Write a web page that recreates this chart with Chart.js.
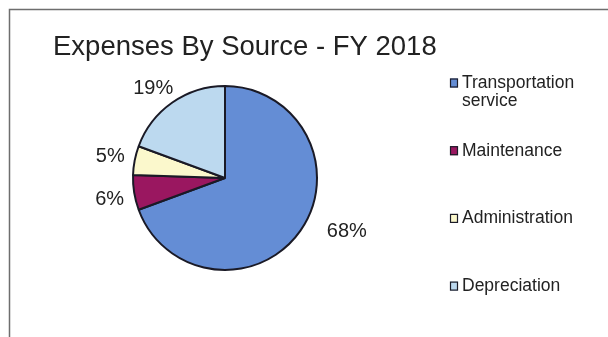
<!DOCTYPE html>
<html>
<head>
<meta charset="utf-8">
<script src="https://cdn.jsdelivr.net/npm/chart.js@4"></script>
<style>
    html, body { margin: 0; padding: 0; background: #ffffff; }
    #wrap { position: relative; width: 608px; height: 337px; }
</style>
</head>
<body>
<div id="wrap"><canvas id="expensesChart" width="608" height="337"></canvas></div>
<script>
// Chart data
const chartTitle = 'Expenses By Source - FY 2018';
const categories = ['Transportation service', 'Maintenance', 'Administration', 'Depreciation'];
const legendLines = [['Transportation', 'service'], ['Maintenance'], ['Administration'], ['Depreciation']];
const percentages = [68, 6, 5, 19];
const sliceColors = ['#648dd5', '#9a1760', '#fbf8cc', '#bcd9ef'];

// Small nudges so the outside labels sit where Excel put them
const labelNudges = [[26, -13], [0, 3], [0, 1], [-5, 6]];

const FONT = '"Liberation Sans", Arial, sans-serif';
const TEXT_COLOR = '#222222';

const chartDecorations = {
    id: 'chartDecorations',
    beforeDraw(chart) {
        const ctx = chart.ctx;
        ctx.save();
        ctx.fillStyle = '#ffffff';
        ctx.fillRect(0, 0, chart.width, chart.height);

        // Frame (right and bottom edges fall outside the picture)
        ctx.strokeStyle = '#6e6e6e';
        ctx.lineWidth = 1.5;
        ctx.beginPath();
        ctx.moveTo(9.5, chart.height);
        ctx.lineTo(9.5, 9.5);
        ctx.lineTo(chart.width, 9.5);
        ctx.stroke();
        ctx.restore();
    },
    afterDraw(chart) {
        const ctx = chart.ctx;
        ctx.save();

        // Title
        ctx.fillStyle = TEXT_COLOR;
        ctx.font = `27.5px ${FONT}`;
        ctx.textAlign = 'left';
        ctx.textBaseline = 'alphabetic';
        ctx.fillText(chartTitle, 53, 55);

        // Percentage labels outside the slices
        const meta = chart.getDatasetMeta(0);
        ctx.font = `20px ${FONT}`;
        ctx.textAlign = 'center';
        ctx.textBaseline = 'middle';
        meta.data.forEach((arc, i) => {
            const p = arc.getProps(['x', 'y', 'startAngle', 'endAngle', 'outerRadius'], true);
            const mid = (p.startAngle + p.endAngle) / 2;
            const dist = p.outerRadius * 1.27;
            const lx = p.x + Math.cos(mid) * dist + labelNudges[i][0];
            const ly = p.y + Math.sin(mid) * dist + labelNudges[i][1];
            ctx.fillText(`${percentages[i]}%`, lx, ly);
        });

        // Legend
        const boxX = 450;
        const textX = 462;
        const firstY = 83;
        const itemStep = 67.7;
        const lineStep = 18;
        ctx.font = `17.5px ${FONT}`;
        ctx.textAlign = 'left';
        ctx.textBaseline = 'middle';
        legendLines.forEach((lines, i) => {
            const y = firstY + i * itemStep;
            ctx.fillStyle = sliceColors[i];
            ctx.fillRect(boxX, y - 4.5, 8, 9);
            ctx.strokeStyle = '#1c1c28';
            ctx.lineWidth = 1.2;
            ctx.strokeRect(boxX + 0.5, y - 4, 7, 8);
            ctx.fillStyle = TEXT_COLOR;
            lines.forEach((line, j) => {
                ctx.fillText(line, textX, y + j * lineStep);
            });
        });

        ctx.restore();
    }
};

const ctx = document.getElementById('expensesChart').getContext('2d');
const expensesChart = new Chart(ctx, {
    type: 'pie',
    data: {
        labels: categories,
        datasets: [{
            data: percentages,
            backgroundColor: sliceColors,
            borderColor: '#1a1a26',
            borderWidth: 2
        }]
    },
    options: {
        responsive: false,
        animation: false,
        layout: {
            padding: { left: 132, right: 290, top: 85, bottom: 66 }
        },
        plugins: {
            legend: { display: false },
            title: { display: false },
            tooltip: { enabled: false }
        }
    },
    plugins: [chartDecorations]
});
</script>
</body>
</html>
